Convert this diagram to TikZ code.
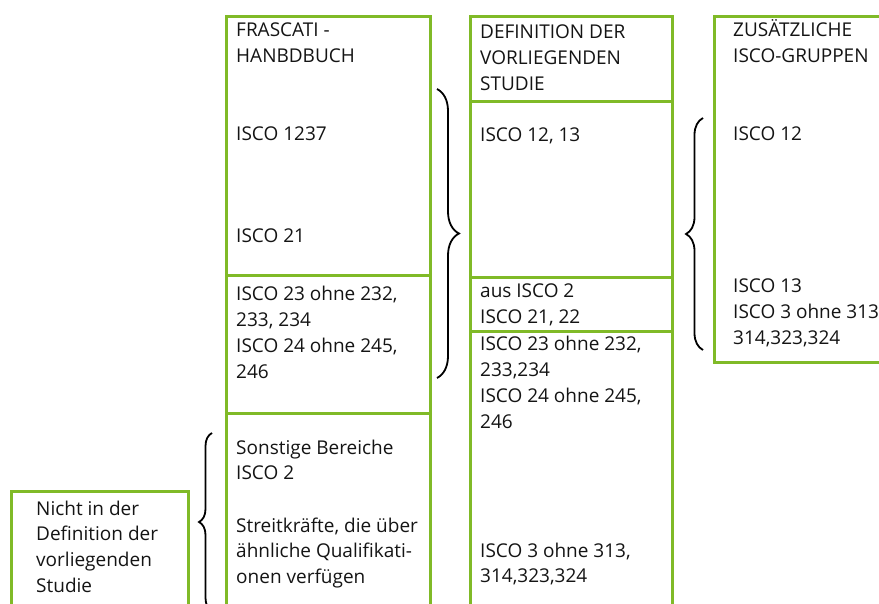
\documentclass[tikz,border=0pt]{standalone}
\usepackage{fontspec}
\setmainfont{Open Sans}
\usetikzlibrary{decorations.pathreplacing}
\definecolor{lgreen}{RGB}{128,186,39}
\definecolor{ink}{RGB}{20,20,20}
\newcommand{\mlines}[1]{\begin{tabular}[t]{@{}l@{}}#1\end{tabular}}
\begin{document}
\begin{tikzpicture}[x=1pt,y=-1pt,
  cell/.style={draw=lgreen, line width=2.6pt, inner sep=0pt, anchor=north west},
  txt/.style={anchor=base west, inner sep=0pt, font=\fontsize{19}{25.7}\selectfont, text=ink},
  brc/.style={decorate, decoration={brace, amplitude=#1}, line width=1.8pt, draw=black}
]
\useasboundingbox (0,0) rectangle (879,604);
\clip (0,0) rectangle (879,604);
% column 1
\node[cell, minimum width=204pt, minimum height=259pt] (f1) at (225,15) {};
\node[cell, minimum width=204pt, minimum height=138pt] (f2) at (225,274) {};
\node[cell, minimum width=204pt, minimum height=220pt] (f3) at (225,412) {};
% column 2
\node[cell, minimum width=202pt, minimum height=85pt] (d1) at (469,15) {};
\node[cell, minimum width=202pt, minimum height=176pt] (d2) at (469,100) {};
\node[cell, minimum width=202pt, minimum height=54pt] (d3) at (469,276) {};
\node[cell, minimum width=202pt, minimum height=290pt] (d4) at (469,330) {};
% column 3
\node[cell, minimum width=200pt, minimum height=346pt] (z1) at (713,15) {};
% left box
\node[cell, minimum width=177pt, minimum height=140pt] (n1) at (10,490) {};

% texts column 1
\node[txt] (t1) at (236,37) {\mlines{FRASCATI -\\HANBDBUCH}};
\node[txt] (t2) at (236,141) {ISCO 1237};
\node[txt] (t3) at (236,243) {ISCO 21};
\node[txt] (t4) at (236,301) {\mlines{ISCO 23 ohne 232,\\233, 234\\ISCO 24 ohne 245,\\246}};
\node[txt] (t5) at (236,454) {\mlines{Sonstige Bereiche\\ISCO 2}};
\node[txt] (t6) at (236,532) {\mlines{Streitkräfte, die über\\ähnliche Qualifikati-\\onen verfügen}};
% texts column 2
\node[txt] (u1) at (480,39) {\mlines{DEFINITION DER\\VORLIEGENDEN\\STUDIE}};
\node[txt] (u2) at (480,142) {ISCO 12, 13};
\node[txt] (u3) at (480,298) {\mlines{aus ISCO 2\\ISCO 21, 22}};
\node[txt] (u4) at (480,351) {\mlines{ISCO 23 ohne 232,\\233,234\\ISCO 24 ohne 245,\\246}};
\node[txt] (u5) at (480,557) {\mlines{ISCO 3 ohne 313,\\314,323,324}};
% texts column 3
\node[txt] (v1) at (733,37) {\mlines{ZUSÄTZLICHE\\ISCO-GRUPPEN}};
\node[txt] (v2) at (733,141) {ISCO 12};
\node[txt] (v3) at (733,293) {\mlines{ISCO 13\\ISCO 3 ohne 313\\314,323,324}};
% left box text
\node[txt] (w1) at (36,515) {\mlines{Nicht in der\\Definition der\\vorliegenden\\Studie}};

% braces
\coordinate (b1a) at (437,89);
\coordinate (b1b) at (437,378);
\draw[brc=22pt] (b1a) -- (b1b);
\coordinate (b2a) at (703,350);
\coordinate (b2b) at (703,118);
\draw[brc=17pt] (b2a) -- (b2b);
\coordinate (b3a) at (212,611);
\coordinate (b3b) at (212,433);
\draw[brc=13pt] (b3a) -- (b3b);
\end{tikzpicture}
\end{document}
